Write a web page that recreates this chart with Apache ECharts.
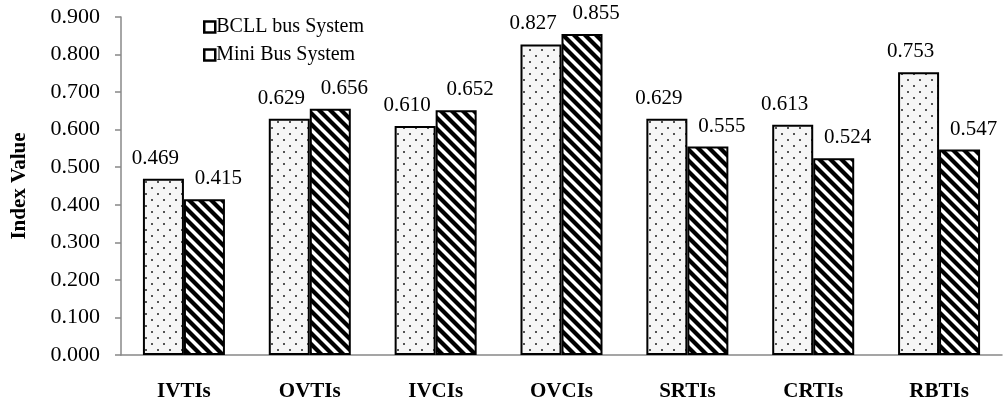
<!DOCTYPE html>
<html><head><meta charset="utf-8">
<script src="https://cdn.jsdelivr.net/npm/echarts@6/dist/echarts.min.js"></script>
<style>html,body{margin:0;padding:0;background:#fff}#c{width:1008px;height:404px}</style>
</head><body><div id="c"></div>
<script>
var categories = ['IVTIs','OVTIs','IVCIs','OVCIs','SRTIs','CRTIs','RBTIs'];
var bcll = [0.469,0.629,0.610,0.827,0.629,0.613,0.753];
var mini = [0.415,0.656,0.652,0.855,0.555,0.524,0.547];

function dotPattern(){
  var c=document.createElement('canvas');c.width=12;c.height=12;
  var g=c.getContext('2d');g.fillStyle='#f6f6f6';g.fillRect(0,0,12,12);
  g.fillStyle='#555';
  g.fillRect(1,1,2,2);g.fillRect(7,7,2,2);
  return c;
}
function stripePattern(){
  var s=11;var c=document.createElement('canvas');c.width=s;c.height=s;
  var g=c.getContext('2d');g.fillStyle='#fff';g.fillRect(0,0,s,s);
  g.strokeStyle='#000';g.lineWidth=4.2;
  for(var k=-1;k<=1;k++){g.beginPath();g.moveTo(k*s-2,-2);g.lineTo(k*s+s+2,s+2);g.stroke();}
  return c;
}
var font='"Liberation Serif","Times New Roman",serif';
function fmt(p){return p.value.toFixed(3);}
var chart=echarts.init(document.getElementById('c'));
chart.setOption({
  animation:false,
  textStyle:{fontFamily:font},
  grid:{left:121,right:6,top:17,bottom:49},
  legend:{
    left:198,top:12,orient:'vertical',itemGap:8,itemWidth:11,itemHeight:11,
    textStyle:{fontFamily:font,fontSize:20,color:'#000',padding:[0,0,0,-4]},
    data:[{name:'BCLL bus System',icon:'rect',itemStyle:{color:'#fff',borderColor:'#000',borderWidth:2.5}},
          {name:'Mini Bus System',icon:'rect',itemStyle:{color:'#fff',borderColor:'#000',borderWidth:2.5}}]
  },
  xAxis:{type:'category',data:categories,
    axisLine:{lineStyle:{color:'#888',width:1.5}},axisTick:{show:false},
    axisLabel:{fontFamily:font,fontSize:21,fontWeight:'bold',color:'#000',margin:26}},
  yAxis:{type:'value',min:0,max:0.9,interval:0.1,
    name:'Index Value',nameLocation:'middle',nameGap:91,
    nameTextStyle:{fontFamily:font,fontSize:21,fontWeight:'bold',color:'#000'},
    axisLine:{show:true,lineStyle:{color:'#888',width:1.5}},
    axisTick:{show:true,length:6,lineStyle:{color:'#888',width:1.5}},
    splitLine:{show:false},
    axisLabel:{fontFamily:font,fontSize:22,color:'#000',margin:21,formatter:function(v){return v.toFixed(3);}}},
  series:[
    {name:'BCLL bus System',type:'bar',data:bcll,barWidth:41,barGap:'0%',
     itemStyle:{color:{image:dotPattern(),repeat:'repeat'},borderColor:'#000',borderWidth:2},
     label:{show:true,position:'top',distance:10,offset:[-8,0],fontFamily:font,fontSize:21,color:'#000',formatter:fmt}},
    {name:'Mini Bus System',type:'bar',data:mini,barWidth:41,
     itemStyle:{color:{image:stripePattern(),repeat:'repeat'},borderColor:'#000',borderWidth:2},
     label:{show:true,position:'top',distance:10,offset:[14,0],fontFamily:font,fontSize:21,color:'#000',formatter:fmt}}
  ]
});
</script></body></html>
